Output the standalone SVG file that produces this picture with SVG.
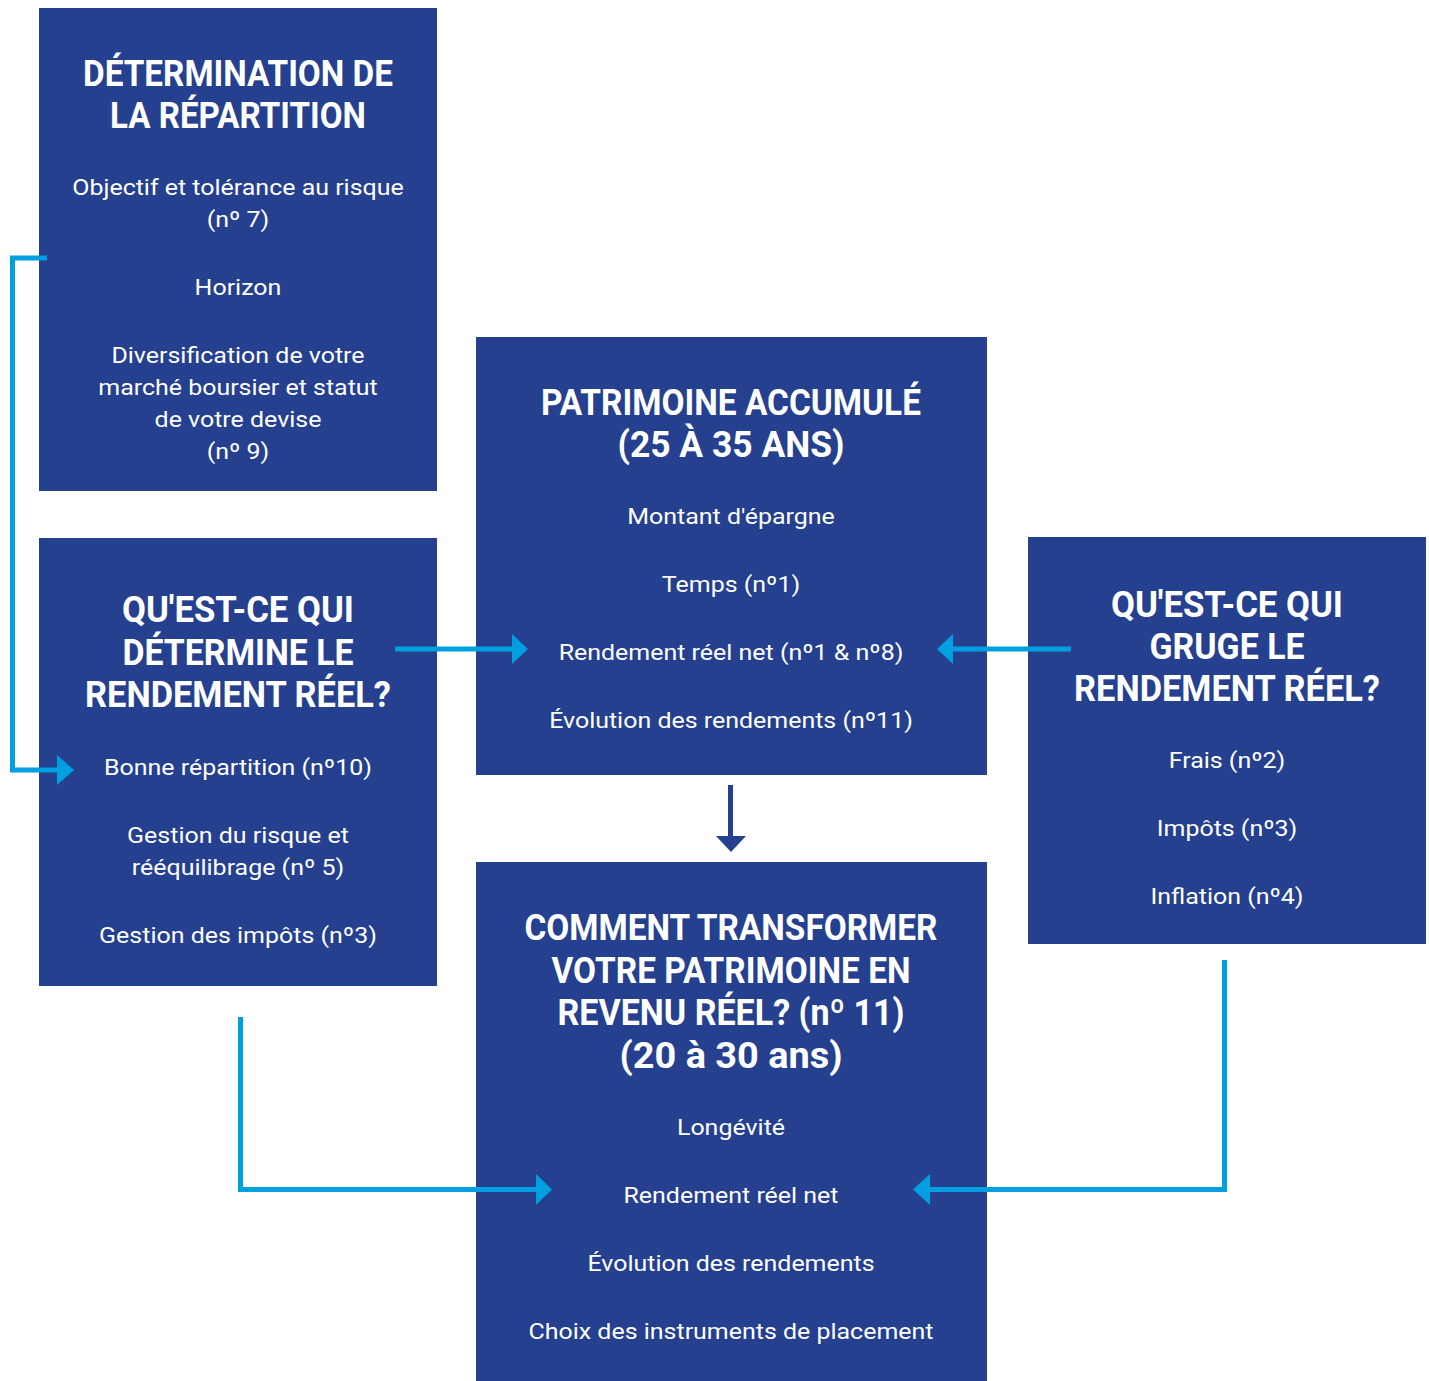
<svg xmlns="http://www.w3.org/2000/svg" width="1429" height="1381" viewBox="0 0 1429 1381">
<style>
.box{fill:#25408f}
.t{font-family:Roboto,"Liberation Sans",sans-serif;font-weight:700;font-size:36px;fill:#fff;text-anchor:middle}
.b{font-family:Roboto,"Liberation Sans",sans-serif;font-weight:400;font-size:22.5px;fill:#fff;text-anchor:middle}
.ln{fill:none;stroke:#009fdf;stroke-width:5}
.hd{fill:#009fdf}
.dln{fill:none;stroke:#25408f;stroke-width:5}
.dhd{fill:#25408f}
</style>
<rect width="1429" height="1381" fill="#fff"/>
<g id="node-repartition">
<rect class="box" x="39" y="8" width="398" height="483"/>
<text class="t" x="238" y="86" textLength="310" lengthAdjust="spacingAndGlyphs">DÉTERMINATION DE</text>
<text class="t" x="238" y="128" textLength="256" lengthAdjust="spacingAndGlyphs">LA RÉPARTITION</text>
<g transform="translate(238 0) scale(1.11 1) translate(-238 0)">
<text class="b" x="238" y="195">Objectif et tolérance au risque</text>
<text class="b" x="238" y="227">(nº 7)</text>
<text class="b" x="238" y="295">Horizon</text>
<text class="b" x="238" y="363">Diversification de votre</text>
<text class="b" x="238" y="395">marché boursier et statut</text>
<text class="b" x="238" y="427">de votre devise</text>
<text class="b" x="238" y="459">(nº 9)</text>
</g>
</g>
<g id="node-determine">
<rect class="box" x="39" y="538" width="398" height="448"/>
<text class="t" x="238" y="622" textLength="232" lengthAdjust="spacingAndGlyphs">QU'EST-CE QUI</text>
<text class="t" x="238" y="665" textLength="231" lengthAdjust="spacingAndGlyphs">DÉTERMINE LE</text>
<text class="t" x="238" y="707" textLength="306" lengthAdjust="spacingAndGlyphs">RENDEMENT RÉEL?</text>
<g transform="translate(238 0) scale(1.11 1) translate(-238 0)">
<text class="b" x="238" y="775">Bonne répartition (nº10)</text>
<text class="b" x="238" y="843">Gestion du risque et</text>
<text class="b" x="238" y="875">rééquilibrage (nº 5)</text>
<text class="b" x="238" y="943">Gestion des impôts (nº3)</text>
</g>
</g>
<g id="node-patrimoine">
<rect class="box" x="476" y="337" width="511" height="438"/>
<text class="t" x="731" y="415" textLength="380" lengthAdjust="spacingAndGlyphs">PATRIMOINE ACCUMULÉ</text>
<text class="t" x="731" y="457" textLength="227" lengthAdjust="spacingAndGlyphs">(25 À 35 ANS)</text>
<g transform="translate(731 0) scale(1.11 1) translate(-731 0)">
<text class="b" x="731" y="524">Montant d'épargne</text>
<text class="b" x="731" y="592">Temps (nº1)</text>
<text class="b" x="731" y="660">Rendement réel net (nº1 &amp; nº8)</text>
<text class="b" x="731" y="728">Évolution des rendements (nº11)</text>
</g>
</g>
<g id="node-gruge">
<rect class="box" x="1028" y="537" width="398" height="407"/>
<text class="t" x="1227" y="617" textLength="232" lengthAdjust="spacingAndGlyphs">QU'EST-CE QUI</text>
<text class="t" x="1227" y="659" textLength="155" lengthAdjust="spacingAndGlyphs">GRUGE LE</text>
<text class="t" x="1227" y="701" textLength="306" lengthAdjust="spacingAndGlyphs">RENDEMENT RÉEL?</text>
<g transform="translate(1227 0) scale(1.11 1) translate(-1227 0)">
<text class="b" x="1227" y="768">Frais (nº2)</text>
<text class="b" x="1227" y="836">Impôts (nº3)</text>
<text class="b" x="1227" y="904">Inflation (nº4)</text>
</g>
</g>
<g id="node-transformer">
<rect class="box" x="476" y="862" width="511" height="519"/>
<text class="t" x="731" y="940" textLength="413" lengthAdjust="spacingAndGlyphs">COMMENT TRANSFORMER</text>
<text class="t" x="731" y="983" textLength="359" lengthAdjust="spacingAndGlyphs">VOTRE PATRIMOINE EN</text>
<text class="t" x="731" y="1025" textLength="347" lengthAdjust="spacingAndGlyphs">REVENU RÉEL? (nº 11)</text>
<text class="t" x="731" y="1068" textLength="223" lengthAdjust="spacingAndGlyphs">(20 à 30 ans)</text>
<g transform="translate(731 0) scale(1.11 1) translate(-731 0)">
<text class="b" x="731" y="1135">Longévité</text>
<text class="b" x="731" y="1203">Rendement réel net</text>
<text class="b" x="731" y="1271">Évolution des rendements</text>
<text class="b" x="731" y="1339">Choix des instruments de placement</text>
</g>
</g>
<g id="connectors">
<polyline class="ln" points="47,258 12.5,258 12.5,770 58,770"/>
<polygon class="hd" points="57,755 74,770 57,785"/>
<line class="ln" x1="395" y1="649" x2="514" y2="649"/>
<polygon class="hd" points="512,634 528,649 512,664"/>
<line class="ln" x1="1071" y1="649" x2="951" y2="649"/>
<polygon class="hd" points="953,634 937,649 953,664"/>
<line class="dln" x1="730.5" y1="785" x2="730.5" y2="838"/>
<polygon class="dhd" points="716,836 746,836 731,852"/>
<polyline class="ln" points="240.5,1017 240.5,1189.5 538,1189.5"/>
<polygon class="hd" points="536,1174 552,1189.5 536,1205"/>
<polyline class="ln" points="1224.5,960 1224.5,1189.5 928,1189.5"/>
<polygon class="hd" points="930,1174 913,1189.5 930,1205"/>
</g>
</svg>
